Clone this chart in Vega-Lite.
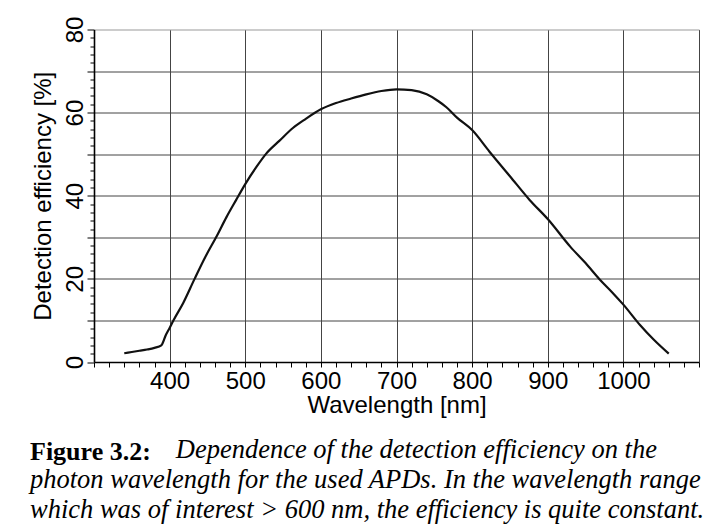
{
  "$schema": "https://vega.github.io/schema/vega-lite/v6.json",
  "width": 605,
  "height": 332.5,
  "autosize": "none",
  "padding": {"left": 94, "top": 29.5, "right": 18, "bottom": 170},
  "background": "white",
  "config": {
    "view": {"stroke": null},
    "font": "Liberation Sans"
  },
  "title": {
    "text": "Figure 3.2:",
    "subtitle": [
      "\u200b\u00a0\u00a0\u00a0\u00a0\u00a0\u00a0\u00a0\u00a0\u00a0\u00a0\u00a0\u00a0\u00a0\u00a0\u00a0\u00a0\u00a0\u00a0\u00a0\u00a0\u00a0\u00a0Dependence of the detection efficiency on the",
      "photon wavelength for the used APDs. In the wavelength range",
      "which was of interest > 600 nm, the efficiency is quite constant."
    ],
    "orient": "bottom",
    "anchor": "start",
    "frame": "group",
    "dx": -64,
    "offset": 22,
    "font": "Liberation Serif",
    "fontSize": 26,
    "fontWeight": "bold",
    "color": "black",
    "lineHeight": 30,
    "subtitleFont": "Liberation Serif",
    "subtitleFontSize": 26.5,
    "subtitleFontStyle": "italic",
    "subtitleFontWeight": "normal",
    "subtitleColor": "black",
    "subtitleLineHeight": 30,
    "subtitlePadding": -28
  },
  "data": {
    "values": [
      {"wavelength": 340, "efficiency": 2.1},
      {"wavelength": 350, "efficiency": 2.4},
      {"wavelength": 360, "efficiency": 2.7},
      {"wavelength": 370, "efficiency": 3.0},
      {"wavelength": 380, "efficiency": 3.4},
      {"wavelength": 389, "efficiency": 4.0},
      {"wavelength": 395, "efficiency": 6.5},
      {"wavelength": 400, "efficiency": 8.2},
      {"wavelength": 405, "efficiency": 10.0},
      {"wavelength": 418, "efficiency": 14.2},
      {"wavelength": 433, "efficiency": 20.0},
      {"wavelength": 447, "efficiency": 25.2},
      {"wavelength": 462, "efficiency": 30.2},
      {"wavelength": 475, "efficiency": 34.8},
      {"wavelength": 488, "efficiency": 39.0},
      {"wavelength": 500, "efficiency": 42.8},
      {"wavelength": 515, "efficiency": 47.0},
      {"wavelength": 528, "efficiency": 50.2},
      {"wavelength": 545, "efficiency": 53.2},
      {"wavelength": 563, "efficiency": 56.3},
      {"wavelength": 580, "efficiency": 58.5},
      {"wavelength": 600, "efficiency": 60.8},
      {"wavelength": 620, "efficiency": 62.3},
      {"wavelength": 640, "efficiency": 63.4},
      {"wavelength": 660, "efficiency": 64.4},
      {"wavelength": 680, "efficiency": 65.2},
      {"wavelength": 700, "efficiency": 65.6},
      {"wavelength": 720, "efficiency": 65.4},
      {"wavelength": 740, "efficiency": 64.4},
      {"wavelength": 755, "efficiency": 62.8},
      {"wavelength": 766, "efficiency": 61.3},
      {"wavelength": 780, "efficiency": 58.8},
      {"wavelength": 800, "efficiency": 55.8},
      {"wavelength": 823, "efficiency": 50.6},
      {"wavelength": 850, "efficiency": 44.7},
      {"wavelength": 876, "efficiency": 39.0},
      {"wavelength": 900, "efficiency": 34.4},
      {"wavelength": 930, "efficiency": 27.7},
      {"wavelength": 950, "efficiency": 23.8},
      {"wavelength": 969, "efficiency": 19.8},
      {"wavelength": 985, "efficiency": 16.8},
      {"wavelength": 1000, "efficiency": 13.8},
      {"wavelength": 1022, "efficiency": 8.9},
      {"wavelength": 1040, "efficiency": 5.4},
      {"wavelength": 1060, "efficiency": 2.0}
    ]
  },
  "mark": {"type": "line", "color": "#111111", "strokeWidth": 2.2, "interpolate": "monotone"},
  "encoding": {
    "x": {
      "field": "wavelength",
      "type": "quantitative",
      "scale": {"domain": [300, 1100], "nice": false, "zero": false},
      "axis": {
        "title": "Wavelength [nm]",
        "values": [300,320,340,360,380,400,420,440,460,480,500,520,540,560,580,600,620,640,660,680,700,720,740,760,780,800,820,840,860,880,900,920,940,960,980,1000,1020,1040,1060,1080,1100],
        "format": "d",
        "labelExpr": "datum.value % 100 === 0 && datum.value > 300 && datum.value < 1100 ? datum.label : ''",
        "labelOverlap": false,
        "labelFlush": false,
        "labelBound": false,
        "labelFontSize": 24,
        "labelColor": "black",
        "labelPadding": 2,
        "tickSize": 5,
        "tickColor": "black",
        "tickWidth": 1,
        "domainColor": "black",
        "domainWidth": 1.6,
        "grid": true,
        "gridColor": "#444444",
        "gridWidth": 1,
        "gridOpacity": {"condition": {"test": "datum.value % 100 === 0 && datum.value > 300", "value": 1}, "value": 0},
        "titleFontSize": 24,
        "titleFontWeight": "normal",
        "titleColor": "black",
        "titlePadding": 0
      }
    },
    "y": {
      "field": "efficiency",
      "type": "quantitative",
      "scale": {"domain": [0, 80], "nice": false},
      "axis": {
        "title": "Detection efficiency [%]",
        "values": [0,2,4,6,8,10,12,14,16,18,20,22,24,26,28,30,32,34,36,38,40,42,44,46,48,50,52,54,56,58,60,62,64,66,68,70,72,74,76,78,80],
        "labelExpr": "datum.value % 20 === 0 ? datum.label : ''",
        "labelAngle": -90,
        "labelOverlap": false,
        "labelFlush": false,
        "labelBound": false,
        "labelFontSize": 24,
        "labelColor": "black",
        "labelPadding": 0,
        "tickSize": {"condition": {"test": "datum.value % 10 === 0", "value": 7}, "value": 4},
        "tickColor": "black",
        "tickWidth": 1,
        "domainColor": "black",
        "domainWidth": 1.6,
        "grid": true,
        "gridColor": {"condition": {"test": "datum.value === 80", "value": "#999999"}, "value": "#444444"},
        "gridWidth": 1,
        "gridOpacity": {"condition": {"test": "datum.value % 10 === 0 && datum.value > 0", "value": 1}, "value": 0},
        "titleFontSize": 24,
        "titleFontWeight": "normal",
        "titleColor": "black",
        "titlePadding": 8
      }
    }
  }
}
